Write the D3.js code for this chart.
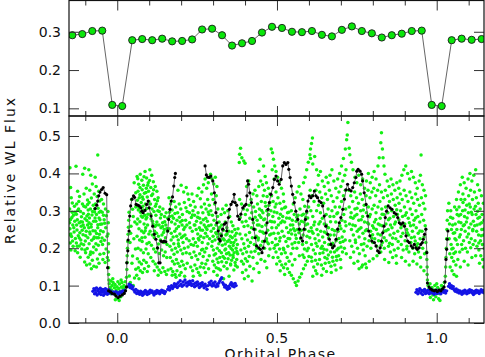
<!DOCTYPE html>
<html><head><meta charset="utf-8">
<script src="https://cdn.jsdelivr.net/npm/d3@7"></script>
<style>html,body{margin:0;padding:0;background:#fff}svg{display:block}</style>
</head><body>
<script>
// ---------- DATA ----------
const binPhase = [-0.1406,-0.1094,-0.0781,-0.0469,-0.0156,0.0156,0.0469,0.0781,0.1094,0.1406,0.1719,0.2031,0.2344,0.2656,0.2969,0.3281,0.3594,0.3906,0.4219,0.4531,0.4844,0.5156,0.5469,0.5781,0.6094,0.6406,0.6719,0.7031,0.7344,0.7656,0.7969,0.8281,0.8594,0.8906,0.9219,0.9531,0.9844,1.0156,1.0469,1.0781,1.1094,1.1406];
const binFlux = [0.291,0.294,0.302,0.303,0.109,0.106,0.278,0.281,0.278,0.282,0.275,0.276,0.280,0.306,0.308,0.291,0.264,0.270,0.276,0.298,0.313,0.310,0.300,0.299,0.302,0.292,0.288,0.305,0.314,0.302,0.296,0.285,0.291,0.295,0.302,0.303,0.109,0.106,0.278,0.282,0.279,0.281];

const greenPts = [
[-0.148,0.415],[-0.146,0.362],[-0.144,0.335],[-0.149,0.305],[-0.141,0.296],[-0.137,0.288],[-0.146,0.277],[-0.133,0.272],[-0.139,0.262],[-0.148,0.252],[-0.135,0.243],[-0.143,0.231],[-0.131,0.226],[-0.147,0.214],[-0.138,0.205],[-0.145,0.195],[-0.134,0.312],[-0.142,0.282],[-0.149,0.268],[-0.136,0.255],
[-0.129,0.419],[-0.124,0.352],[-0.118,0.338],[-0.127,0.318],[-0.121,0.305],[-0.115,0.298],[-0.128,0.291],[-0.112,0.284],[-0.125,0.276],[-0.119,0.268],[-0.113,0.259],[-0.126,0.249],[-0.117,0.241],[-0.122,0.233],[-0.114,0.222],[-0.128,0.214],[-0.119,0.206],[-0.111,0.198],[-0.124,0.188],[-0.116,0.176],
[-0.108,0.398],[-0.102,0.414],[-0.097,0.36],[-0.104,0.345],[-0.093,0.329],[-0.109,0.318],[-0.099,0.31],[-0.091,0.302],[-0.106,0.293],[-0.095,0.286],[-0.101,0.279],[-0.109,0.27],[-0.093,0.262],[-0.103,0.255],[-0.097,0.245],[-0.107,0.236],[-0.092,0.228],[-0.1,0.219],[-0.105,0.209],[-0.094,0.199],[-0.099,0.188],[-0.091,0.176],[-0.102,0.163],[-0.096,0.155],
[-0.089,0.41],[-0.083,0.395],[-0.078,0.372],[-0.086,0.355],[-0.072,0.345],[-0.081,0.334],[-0.088,0.322],[-0.075,0.315],[-0.084,0.305],[-0.071,0.297],[-0.079,0.289],[-0.087,0.281],[-0.074,0.272],[-0.082,0.264],[-0.089,0.255],[-0.076,0.247],[-0.085,0.238],[-0.072,0.23],[-0.08,0.221],[-0.088,0.212],[-0.074,0.203],[-0.083,0.19],[-0.078,0.168],[-0.086,0.158],[-0.073,0.152],[-0.081,0.145],
[-0.069,0.39],[-0.061,0.449],[-0.066,0.365],[-0.058,0.352],[-0.063,0.338],[-0.055,0.326],[-0.068,0.318],[-0.06,0.307],[-0.052,0.299],[-0.065,0.29],[-0.057,0.281],[-0.067,0.272],[-0.053,0.264],[-0.061,0.255],[-0.069,0.246],[-0.056,0.237],[-0.064,0.228],[-0.051,0.218],[-0.059,0.208],[-0.066,0.196],[-0.054,0.184],[-0.062,0.171],[-0.057,0.16],[-0.065,0.15],
[-0.049,0.33],[-0.043,0.318],[-0.037,0.305],[-0.047,0.296],[-0.034,0.287],[-0.041,0.276],[-0.048,0.265],[-0.036,0.255],[-0.044,0.244],[-0.032,0.232],[-0.04,0.221],[-0.046,0.21],[-0.035,0.198],[-0.042,0.186],[-0.031,0.175],[-0.038,0.162],[-0.045,0.17],
[-0.029,0.298],[-0.028,0.268],[-0.029,0.238],[-0.027,0.212],[-0.028,0.19],[-0.028,0.168],[-0.027,0.148],[-0.027,0.13],[-0.026,0.115],
[-0.025,0.105],[-0.022,0.095],[-0.02,0.112],[-0.018,0.088],[-0.016,0.1],[-0.013,0.108],[-0.011,0.082],[-0.009,0.094],[-0.007,0.103],[-0.005,0.075],[-0.003,0.088],[-0.001,0.097],[0.001,0.066],[0.003,0.08],[0.005,0.092],[0.007,0.104],[0.009,0.085],[0.011,0.07],[0.013,0.096],[0.015,0.108],[0.017,0.083],[0.019,0.093],[0.021,0.1],[0.023,0.088],[0.025,0.11],[0.027,0.097],[-0.014,0.118],[0.002,0.11],[0.012,0.115],[-0.006,0.062],[0.006,0.06],[-0.02,0.078],
[0.029,0.122],[0.03,0.143],[0.031,0.162],[0.031,0.18],[0.032,0.2],[0.033,0.218],[0.034,0.237],[0.035,0.256],[0.036,0.275],[0.037,0.296],
[0.053,0.375],[0.058,0.348],[0.048,0.304],[0.043,0.259],[0.04,0.215],[0.048,0.179],[0.058,0.144],[0.038,0.126],[0.045,0.33],[0.05,0.285],[0.055,0.27],[0.042,0.24],[0.052,0.225],[0.057,0.198],[0.046,0.16],[0.054,0.12],[0.041,0.108],[0.05,0.1],[0.058,0.31],
[0.062,0.392],[0.067,0.371],[0.072,0.398],[0.077,0.382],[0.082,0.368],[0.087,0.405],[0.092,0.388],[0.097,0.375],[0.065,0.352],[0.071,0.343],[0.078,0.356],[0.085,0.347],[0.091,0.36],[0.098,0.352],[0.063,0.328],[0.069,0.335],[0.075,0.322],[0.081,0.331],[0.088,0.318],[0.094,0.337],[0.099,0.325],[0.066,0.302],[0.073,0.296],[0.08,0.312],[0.086,0.288],[0.093,0.306],[0.064,0.278],[0.071,0.271],[0.079,0.283],[0.084,0.265],[0.09,0.278],[0.096,0.291],[0.068,0.252],[0.076,0.246],[0.083,0.241],[0.089,0.255],[0.095,0.262],[0.062,0.232],[0.07,0.222],[0.078,0.218],[0.087,0.229],[0.093,0.212],[0.099,0.238],[0.065,0.2],[0.074,0.195],[0.082,0.188],[0.09,0.198],[0.097,0.185],[0.063,0.172],[0.069,0.163],[0.076,0.158],[0.083,0.168],[0.091,0.162],[0.098,0.152],[0.066,0.148],[0.072,0.14],[0.079,0.135],[0.085,0.145],[0.061,0.128],[0.068,0.118],[0.094,0.138],
[0.102,0.41],[0.108,0.395],[0.113,0.378],[0.119,0.365],[0.124,0.352],[0.105,0.362],[0.111,0.345],[0.117,0.33],[0.122,0.318],[0.128,0.335],[0.104,0.318],[0.109,0.305],[0.115,0.298],[0.121,0.288],[0.127,0.3],[0.133,0.31],[0.138,0.29],[0.143,0.305],[0.148,0.285],[0.153,0.295],[0.158,0.28],[0.106,0.278],[0.112,0.265],[0.118,0.258],[0.124,0.27],[0.131,0.262],[0.137,0.255],[0.142,0.268],[0.147,0.25],[0.152,0.262],[0.157,0.245],[0.103,0.245],[0.11,0.235],[0.116,0.228],[0.123,0.24],[0.129,0.232],[0.135,0.222],[0.14,0.235],[0.146,0.215],[0.151,0.228],[0.156,0.21],[0.107,0.208],[0.114,0.198],[0.12,0.19],[0.126,0.2],[0.132,0.186],[0.139,0.195],[0.145,0.18],[0.15,0.19],[0.155,0.175],[0.105,0.175],[0.112,0.165],[0.119,0.158],[0.125,0.15],[0.131,0.142],[0.137,0.135],[0.143,0.148],[0.149,0.138],[0.154,0.13],[0.159,0.142],[0.116,0.14],[0.128,0.128],
[0.162,0.335],[0.167,0.318],[0.172,0.302],[0.178,0.325],[0.183,0.31],[0.189,0.295],[0.194,0.318],[0.199,0.305],[0.204,0.29],[0.21,0.322],[0.215,0.308],[0.164,0.285],[0.17,0.27],[0.176,0.28],[0.181,0.265],[0.187,0.275],[0.192,0.258],[0.197,0.27],[0.203,0.262],[0.208,0.25],[0.214,0.275],[0.218,0.262],[0.163,0.252],[0.169,0.24],[0.175,0.23],[0.18,0.245],[0.186,0.232],[0.191,0.222],[0.196,0.238],[0.201,0.228],[0.206,0.215],[0.212,0.235],[0.217,0.225],[0.165,0.205],[0.171,0.195],[0.177,0.212],[0.182,0.2],[0.188,0.19],[0.193,0.205],[0.199,0.195],[0.205,0.185],[0.21,0.2],[0.216,0.188],[0.166,0.175],[0.173,0.165],[0.179,0.158],[0.185,0.17],[0.19,0.16],[0.196,0.152],[0.202,0.165],[0.207,0.155],[0.213,0.145],[0.219,0.16],[0.168,0.145],[0.174,0.138],[0.181,0.13],[0.187,0.14],[0.195,0.128],[0.2,0.135],[0.211,0.125],[0.172,0.128],[0.184,0.122],[0.19,0.355],[0.2,0.368],[0.208,0.35],[0.216,0.362],[0.221,0.345],
[0.224,0.33],[0.229,0.315],[0.234,0.345],[0.239,0.325],[0.244,0.31],[0.25,0.34],[0.255,0.36],[0.26,0.332],[0.265,0.35],[0.27,0.37],[0.275,0.385],[0.28,0.36],[0.285,0.375],[0.29,0.39],[0.226,0.295],[0.232,0.282],[0.237,0.3],[0.242,0.288],[0.248,0.272],[0.253,0.295],[0.258,0.28],[0.263,0.31],[0.268,0.295],[0.273,0.318],[0.278,0.305],[0.283,0.33],[0.288,0.315],[0.228,0.255],[0.235,0.245],[0.241,0.262],[0.247,0.25],[0.252,0.238],[0.257,0.255],[0.262,0.268],[0.267,0.248],[0.272,0.262],[0.277,0.28],[0.282,0.272],[0.287,0.29],[0.225,0.22],[0.231,0.21],[0.238,0.225],[0.245,0.215],[0.251,0.205],[0.256,0.222],[0.261,0.232],[0.266,0.215],[0.271,0.228],[0.276,0.24],[0.281,0.25],[0.286,0.26],[0.227,0.185],[0.233,0.175],[0.24,0.19],[0.246,0.18],[0.252,0.17],[0.258,0.185],[0.264,0.195],[0.269,0.178],[0.274,0.19],[0.279,0.2],[0.284,0.212],[0.289,0.225],[0.23,0.15],[0.236,0.14],[0.243,0.155],[0.249,0.145],[0.254,0.135],[0.26,0.15],[0.265,0.16],[0.271,0.148],[0.277,0.158],[0.282,0.168],[0.288,0.18],[0.238,0.125],[0.259,0.128],[0.276,0.135],[0.286,0.145],
[0.292,0.398],[0.297,0.385],[0.302,0.372],[0.307,0.39],[0.312,0.365],[0.295,0.345],[0.3,0.33],[0.305,0.318],[0.31,0.34],[0.315,0.305],[0.293,0.3],[0.298,0.288],[0.303,0.275],[0.309,0.262],[0.314,0.285],[0.319,0.27],[0.325,0.29],[0.33,0.305],[0.336,0.295],[0.341,0.315],[0.346,0.3],[0.352,0.285],[0.357,0.27],[0.362,0.26],[0.368,0.25],[0.373,0.24],[0.378,0.252],[0.294,0.245],[0.3,0.232],[0.306,0.222],[0.311,0.238],[0.317,0.25],[0.322,0.238],[0.327,0.262],[0.332,0.248],[0.338,0.27],[0.343,0.255],[0.349,0.245],[0.354,0.232],[0.36,0.228],[0.365,0.215],[0.371,0.222],[0.376,0.21],[0.296,0.205],[0.301,0.195],[0.308,0.185],[0.313,0.2],[0.318,0.212],[0.324,0.222],[0.329,0.208],[0.335,0.222],[0.34,0.235],[0.345,0.218],[0.351,0.205],[0.356,0.215],[0.361,0.195],[0.366,0.188],[0.372,0.2],[0.377,0.185],[0.299,0.165],[0.304,0.155],[0.31,0.148],[0.316,0.162],[0.321,0.175],[0.326,0.188],[0.331,0.178],[0.337,0.195],[0.342,0.185],[0.347,0.172],[0.353,0.182],[0.358,0.168],[0.363,0.175],[0.369,0.162],[0.374,0.17],[0.302,0.138],[0.313,0.128],[0.323,0.142],[0.334,0.152],[0.344,0.145],[0.355,0.155],[0.365,0.142],[0.376,0.15],[0.333,0.118],[0.35,0.125],
[0.386,0.467],[0.383,0.451],[0.39,0.442],[0.396,0.433],[0.4,0.427],[0.382,0.429],[0.447,0.438],[0.458,0.42],[0.443,0.406],[0.463,0.392],[0.412,0.38],[0.405,0.365],
[0.383,0.33],[0.389,0.318],[0.395,0.305],[0.401,0.29],[0.407,0.302],[0.413,0.315],[0.419,0.33],[0.425,0.345],[0.431,0.355],[0.437,0.34],[0.443,0.365],[0.449,0.38],[0.455,0.37],[0.461,0.355],[0.467,0.375],[0.473,0.36],[0.478,0.345],
[0.385,0.282],[0.391,0.27],[0.397,0.258],[0.403,0.272],[0.409,0.26],[0.415,0.28],[0.421,0.295],[0.427,0.31],[0.433,0.298],[0.439,0.318],[0.445,0.305],[0.451,0.325],[0.457,0.34],[0.463,0.322],[0.469,0.338],[0.475,0.315],
[0.384,0.238],[0.39,0.225],[0.396,0.212],[0.402,0.235],[0.408,0.222],[0.414,0.242],[0.42,0.255],[0.426,0.268],[0.432,0.25],[0.438,0.275],[0.444,0.262],[0.45,0.282],[0.456,0.295],[0.462,0.278],[0.468,0.3],[0.474,0.29],[0.479,0.272],
[0.387,0.195],[0.393,0.185],[0.399,0.2],[0.405,0.19],[0.411,0.205],[0.417,0.215],[0.423,0.228],[0.429,0.21],[0.435,0.232],[0.441,0.222],[0.447,0.245],[0.453,0.258],[0.459,0.24],[0.465,0.262],[0.471,0.248],[0.477,0.235],
[0.389,0.165],[0.395,0.158],[0.401,0.172],[0.407,0.165],[0.413,0.178],[0.419,0.19],[0.425,0.175],[0.431,0.192],[0.437,0.2],[0.443,0.185],[0.449,0.208],[0.455,0.218],[0.461,0.2],[0.467,0.225],[0.473,0.212],[0.478,0.198],
[0.392,0.135],[0.403,0.142],[0.415,0.152],[0.427,0.145],[0.438,0.16],[0.45,0.17],[0.462,0.165],[0.474,0.18],[0.398,0.118],[0.41,0.125],[0.422,0.112],[0.444,0.135],[0.468,0.148],
[0.482,0.465],[0.486,0.455],[0.489,0.438],[0.493,0.42],[0.497,0.405],[0.485,0.41],[0.502,0.39],[0.508,0.378],[0.491,0.385],[0.514,0.36],[0.52,0.345],[0.497,0.35],[0.503,0.335],[0.509,0.32],[0.515,0.305],[0.521,0.325],[0.527,0.31],[0.533,0.295],[0.539,0.28],[0.545,0.3],[0.551,0.318],[0.557,0.335],[0.563,0.35],[0.569,0.365],[0.575,0.345],[0.581,0.33],[0.587,0.312],[0.593,0.295],[0.599,0.31],
[0.483,0.34],[0.488,0.325],[0.494,0.31],[0.5,0.295],[0.506,0.28],[0.512,0.268],[0.518,0.285],[0.524,0.27],[0.53,0.255],[0.536,0.242],[0.542,0.262],[0.548,0.275],[0.554,0.29],[0.56,0.272],[0.566,0.288],[0.572,0.305],[0.578,0.288],[0.584,0.27],[0.59,0.282],[0.596,0.265],
[0.481,0.3],[0.487,0.285],[0.492,0.27],[0.498,0.255],[0.504,0.24],[0.51,0.228],[0.516,0.245],[0.522,0.232],[0.528,0.218],[0.534,0.205],[0.54,0.225],[0.546,0.238],[0.552,0.252],[0.558,0.235],[0.564,0.25],[0.57,0.265],[0.576,0.248],[0.582,0.235],[0.588,0.25],[0.594,0.232],[0.6,0.245],
[0.484,0.255],[0.49,0.24],[0.496,0.225],[0.502,0.21],[0.508,0.198],[0.514,0.185],[0.52,0.2],[0.526,0.188],[0.532,0.175],[0.538,0.165],[0.544,0.185],[0.55,0.2],[0.556,0.215],[0.562,0.2],[0.568,0.215],[0.574,0.225],[0.58,0.21],[0.586,0.198],[0.592,0.215],[0.598,0.2],
[0.485,0.215],[0.491,0.2],[0.497,0.19],[0.503,0.175],[0.509,0.165],[0.515,0.155],[0.521,0.148],[0.527,0.158],[0.533,0.145],[0.539,0.135],[0.545,0.128],[0.551,0.118],[0.557,0.108],[0.561,0.1],[0.566,0.112],[0.571,0.122],[0.577,0.132],[0.583,0.145],[0.589,0.155],[0.595,0.165],[0.6,0.178],
[0.488,0.175],[0.499,0.158],[0.51,0.14],[0.524,0.13],[0.548,0.155],[0.556,0.17],[0.57,0.18],[0.585,0.175],[0.605,0.465],[0.608,0.48],[0.611,0.495],[0.603,0.45],[0.598,0.43],[0.593,0.41],[0.588,0.39],[0.583,0.375],
[0.605,0.44],[0.612,0.425],[0.618,0.445],[0.624,0.41],[0.63,0.395],[0.636,0.405],[0.642,0.38],[0.648,0.365],[0.654,0.39],[0.66,0.375],[0.666,0.395],[0.672,0.41],[0.678,0.38],[0.684,0.36],[0.69,0.385],[0.696,0.4],[0.702,0.42],[0.708,0.44],[0.714,0.465],[0.718,0.49],[0.72,0.503],[0.722,0.536],[0.726,0.467],
[0.604,0.355],[0.61,0.34],[0.616,0.325],[0.622,0.355],[0.628,0.37],[0.634,0.35],[0.64,0.335],[0.646,0.32],[0.652,0.345],[0.658,0.33],[0.664,0.355],[0.67,0.34],[0.676,0.325],[0.682,0.31],[0.688,0.335],[0.694,0.35],[0.7,0.365],[0.706,0.38],[0.712,0.395],[0.716,0.41],
[0.606,0.3],[0.612,0.285],[0.618,0.27],[0.624,0.3],[0.63,0.315],[0.636,0.295],[0.642,0.28],[0.648,0.265],[0.654,0.29],[0.66,0.305],[0.666,0.285],[0.672,0.3],[0.678,0.285],[0.684,0.27],[0.69,0.295],[0.696,0.31],[0.702,0.325],[0.708,0.34],[0.714,0.355],
[0.607,0.255],[0.613,0.24],[0.619,0.225],[0.625,0.25],[0.631,0.265],[0.637,0.245],[0.643,0.23],[0.649,0.215],[0.655,0.24],[0.661,0.255],[0.667,0.235],[0.673,0.25],[0.679,0.235],[0.685,0.22],[0.691,0.245],[0.697,0.26],[0.703,0.275],[0.709,0.29],[0.715,0.305],
[0.608,0.21],[0.614,0.195],[0.62,0.185],[0.626,0.205],[0.632,0.22],[0.638,0.2],[0.644,0.188],[0.65,0.175],[0.656,0.195],[0.662,0.21],[0.668,0.19],[0.674,0.205],[0.68,0.19],[0.686,0.178],[0.692,0.2],[0.698,0.215],[0.704,0.23],[0.71,0.245],[0.716,0.26],
[0.609,0.165],[0.615,0.15],[0.621,0.14],[0.627,0.158],[0.633,0.17],[0.639,0.155],[0.645,0.145],[0.651,0.16],[0.657,0.172],[0.663,0.162],[0.669,0.152],[0.675,0.165],[0.681,0.155],[0.687,0.168],[0.693,0.18],[0.699,0.17],[0.705,0.19],[0.711,0.2],[0.717,0.185],
[0.612,0.125],[0.625,0.132],[0.64,0.128],[0.655,0.138],[0.67,0.135],[0.685,0.142],[0.7,0.148],
[0.728,0.45],[0.733,0.43],[0.738,0.41],[0.744,0.39],[0.75,0.375],[0.756,0.395],[0.762,0.37],[0.768,0.385],[0.774,0.36],[0.78,0.38],[0.786,0.4],[0.792,0.375],[0.798,0.39],[0.804,0.405],[0.81,0.385],[0.816,0.42],[0.82,0.442],[0.825,0.482],[0.827,0.509],[0.83,0.465],[0.832,0.442],[0.835,0.42],[0.838,0.398],[0.845,0.38],[0.851,0.365],[0.857,0.385],[0.863,0.37],[0.869,0.355],[0.875,0.375],[0.881,0.36],
[0.725,0.355],[0.731,0.34],[0.737,0.325],[0.743,0.35],[0.749,0.335],[0.755,0.32],[0.761,0.345],[0.767,0.33],[0.773,0.315],[0.779,0.34],[0.785,0.355],[0.791,0.335],[0.797,0.35],[0.803,0.36],[0.809,0.34],[0.815,0.355],[0.821,0.37],[0.827,0.35],[0.833,0.335],[0.839,0.355],[0.846,0.34],[0.852,0.325],[0.858,0.345],[0.864,0.33],[0.87,0.315],[0.876,0.335],[0.882,0.32],
[0.726,0.31],[0.732,0.295],[0.738,0.28],[0.744,0.305],[0.75,0.29],[0.756,0.275],[0.762,0.3],[0.768,0.285],[0.774,0.27],[0.78,0.295],[0.786,0.31],[0.792,0.29],[0.798,0.305],[0.804,0.315],[0.81,0.295],[0.816,0.31],[0.822,0.325],[0.828,0.305],[0.834,0.29],[0.84,0.31],[0.847,0.295],[0.853,0.28],[0.859,0.3],[0.865,0.285],[0.871,0.27],[0.877,0.29],
[0.727,0.265],[0.733,0.25],[0.739,0.235],[0.745,0.26],[0.751,0.245],[0.757,0.23],[0.763,0.255],[0.769,0.24],[0.775,0.225],[0.781,0.25],[0.787,0.265],[0.793,0.245],[0.799,0.26],[0.805,0.27],[0.811,0.25],[0.817,0.265],[0.823,0.28],[0.829,0.26],[0.835,0.245],[0.841,0.265],[0.848,0.25],[0.854,0.235],[0.86,0.255],[0.866,0.24],[0.872,0.225],[0.878,0.245],
[0.728,0.22],[0.734,0.205],[0.74,0.19],[0.746,0.215],[0.752,0.2],[0.758,0.185],[0.764,0.21],[0.77,0.195],[0.776,0.18],[0.782,0.205],[0.788,0.22],[0.794,0.2],[0.8,0.215],[0.806,0.225],[0.812,0.205],[0.818,0.22],[0.824,0.235],[0.83,0.215],[0.836,0.2],[0.842,0.22],[0.849,0.205],[0.855,0.19],[0.861,0.21],[0.867,0.195],[0.873,0.18],[0.879,0.2],
[0.73,0.175],[0.741,0.16],[0.753,0.165],[0.765,0.15],[0.777,0.158],[0.789,0.165],[0.801,0.172],[0.813,0.18],[0.825,0.19],[0.837,0.17],[0.85,0.162],[0.862,0.175],[0.874,0.16],[0.757,0.145],[0.768,0.155],[0.78,0.148],
[0.885,0.38],[0.891,0.395],[0.897,0.41],[0.903,0.42],[0.909,0.4],[0.915,0.385],[0.921,0.405],[0.927,0.39],[0.933,0.375],[0.939,0.36],[0.945,0.38],[0.949,0.395],[0.951,0.449],[0.955,0.37],[0.96,0.355],[0.965,0.34],
[0.886,0.345],[0.892,0.33],[0.898,0.355],[0.904,0.34],[0.91,0.325],[0.916,0.35],[0.922,0.335],[0.928,0.32],[0.934,0.345],[0.94,0.33],[0.946,0.315],[0.952,0.335],[0.958,0.32],[0.963,0.305],
[0.887,0.3],[0.893,0.285],[0.899,0.31],[0.905,0.295],[0.911,0.28],[0.917,0.305],[0.923,0.29],[0.929,0.275],[0.935,0.3],[0.941,0.285],[0.947,0.27],[0.953,0.29],[0.959,0.275],[0.964,0.26],
[0.888,0.255],[0.894,0.24],[0.9,0.265],[0.906,0.25],[0.912,0.235],[0.918,0.26],[0.924,0.245],[0.93,0.23],[0.936,0.255],[0.942,0.24],[0.948,0.225],[0.954,0.245],[0.96,0.23],[0.966,0.215],
[0.889,0.21],[0.895,0.195],[0.901,0.22],[0.907,0.205],[0.913,0.19],[0.919,0.215],[0.925,0.2],[0.931,0.185],[0.937,0.205],[0.943,0.19],[0.949,0.175],[0.956,0.2],[0.962,0.185],
[0.89,0.175],[0.902,0.165],[0.914,0.155],[0.926,0.165],[0.938,0.158],[0.95,0.15],[0.96,0.14],
[0.968,0.19],[0.969,0.17],[0.97,0.15],[0.97,0.13],[0.971,0.115],
[0.973,0.1],[0.976,0.09],[0.979,0.105],[0.982,0.082],[0.985,0.095],[0.988,0.075],[0.991,0.088],[0.994,0.1],[0.997,0.07],[1.0,0.083],[1.003,0.095],[1.006,0.065],[1.009,0.078],[1.012,0.09],[1.015,0.1],[1.018,0.085],[1.021,0.097],[1.024,0.108],[0.98,0.068],[0.99,0.062],[1.01,0.06],[1.0,0.105],
[1.027,0.125],[1.028,0.15],[1.029,0.175],[1.03,0.2],[1.031,0.225],[1.032,0.25],[1.033,0.275],[1.034,0.3],
[1.038,0.32],[1.044,0.3],[1.05,0.28],[1.056,0.31],[1.062,0.33],[1.068,0.35],[1.074,0.37],[1.08,0.39],[1.086,0.375],[1.092,0.36],[1.098,0.385],[1.104,0.4],[1.11,0.38],[1.116,0.395],[1.122,0.41],[1.128,0.37],[1.134,0.355],[1.14,0.34],[1.146,0.32],
[1.04,0.265],[1.046,0.25],[1.052,0.24],[1.058,0.265],[1.064,0.29],[1.07,0.31],[1.076,0.33],[1.082,0.345],[1.088,0.33],[1.094,0.315],[1.1,0.34],[1.106,0.355],[1.112,0.33],[1.118,0.35],[1.124,0.335],[1.13,0.32],[1.136,0.305],[1.142,0.29],[1.148,0.275],
[1.039,0.225],[1.045,0.21],[1.051,0.2],[1.057,0.225],[1.063,0.25],[1.069,0.27],[1.075,0.29],[1.081,0.3],[1.087,0.285],[1.093,0.27],[1.099,0.295],[1.105,0.31],[1.111,0.29],[1.117,0.305],[1.123,0.29],[1.129,0.28],[1.135,0.265],[1.141,0.25],[1.147,0.235],
[1.041,0.185],[1.047,0.175],[1.053,0.165],[1.059,0.19],[1.065,0.21],[1.071,0.23],[1.077,0.25],[1.083,0.26],[1.089,0.245],[1.095,0.23],[1.101,0.255],[1.107,0.265],[1.113,0.25],[1.119,0.26],[1.125,0.245],[1.131,0.235],[1.137,0.22],[1.143,0.21],[1.149,0.2],
[1.042,0.15],[1.048,0.14],[1.054,0.13],[1.06,0.155],[1.066,0.17],[1.072,0.19],[1.078,0.21],[1.084,0.22],[1.09,0.2],[1.096,0.19],[1.102,0.215],[1.108,0.225],[1.114,0.21],[1.12,0.22],[1.126,0.205],[1.132,0.195],[1.138,0.18],[1.144,0.17],
[1.062,0.125],[1.074,0.15],[1.086,0.165],[1.098,0.155],[1.11,0.175],[1.122,0.18],[1.134,0.16],[1.146,0.15]
];

// extra green points read from the densest parts of the cloud
const greenPts2 = [
[-0.1453,0.238],[-0.1397,0.219],[-0.1322,0.296],[-0.1271,0.262],[-0.1236,0.301],[-0.1188,0.227],[-0.1142,0.271],[-0.1097,0.248],[-0.1043,0.312],[-0.0987,0.233],[-0.0952,0.274],[-0.0903,0.291],[-0.0861,0.243],[-0.0815,0.257],[-0.0773,0.298],[-0.0736,0.226],[-0.0694,0.281],[-0.0648,0.239],[-0.0607,0.263],[-0.0563,0.296],[-0.0521,0.247],[-0.0476,0.227],[-0.0431,0.288],[-0.0392,0.267],[-0.1407,0.321],[-0.1318,0.193],[-0.1203,0.325],[-0.1127,0.212],[-0.1011,0.195],[-0.0929,0.317],[-0.0847,0.183],[-0.0759,0.188],[-0.0668,0.212],[-0.0589,0.228],[-0.1483,0.236],[-0.1254,0.205],[-0.1066,0.262],[-0.0883,0.268],[-0.0705,0.305],[-0.0541,0.276],
[0.0643,0.386],[0.0712,0.362],[0.0786,0.337],[0.0838,0.391],[0.0897,0.349],[0.0953,0.368],[0.1012,0.381],[0.1074,0.341],[0.1137,0.356],[0.1193,0.312],[0.1258,0.327],[0.1316,0.298],[0.0682,0.309],[0.0749,0.286],[0.0817,0.302],[0.0926,0.282],[0.1046,0.291],[0.1103,0.272],[0.1227,0.262],[0.1352,0.281],[0.1418,0.258],[0.1487,0.271],[0.1553,0.253],[0.0617,0.265],[0.0874,0.247],[0.1168,0.245],[0.1449,0.242],[0.0773,0.228],[0.0997,0.215],[0.1289,0.211],
[0.1634,0.296],[0.1719,0.286],[0.1806,0.293],[0.1853,0.252],[0.1947,0.283],[0.2034,0.274],[0.2116,0.256],[0.2187,0.298],[0.2263,0.268],[0.2354,0.289],[0.2431,0.262],[0.2517,0.283],[0.2608,0.249],[0.2693,0.276],[0.2771,0.256],[0.2846,0.297],[0.1687,0.222],[0.1778,0.184],[0.1913,0.212],[0.2063,0.232],[0.2218,0.203],[0.2387,0.208],[0.2539,0.226],[0.2672,0.197],[0.2814,0.232],
[0.2937,0.262],[0.3016,0.253],[0.3083,0.241],[0.3148,0.229],[0.3207,0.256],[0.3264,0.236],[0.3318,0.225],[0.3381,0.211],[0.3437,0.238],[0.3502,0.222],[0.3563,0.199],[0.3628,0.207],[0.3682,0.233],[0.3744,0.191],[0.3033,0.182],[0.3122,0.171],[0.3196,0.193],[0.3271,0.164],[0.3358,0.173],[0.3417,0.162],[0.3486,0.188],[0.3547,0.158],[0.3619,0.181],[0.3703,0.154],[0.2973,0.218],[0.3174,0.145],[0.3394,0.198],[0.3593,0.244],
[0.4318,0.283],[0.4387,0.262],[0.4452,0.288],[0.4519,0.301],[0.4583,0.276],[0.4648,0.312],[0.4717,0.289],[0.4781,0.322],[0.4843,0.271],[0.4912,0.297],[0.4976,0.318],[0.5043,0.262],[0.5107,0.291],[0.5169,0.273],[0.5237,0.308],[0.5302,0.281],[0.5366,0.296],[0.5428,0.249],[0.5493,0.262],[0.5558,0.247],[0.5621,0.283],[0.5687,0.241],[0.4416,0.227],[0.4548,0.243],[0.4683,0.217],[0.4817,0.238],[0.4951,0.208],[0.5082,0.219],[0.5213,0.196],[0.5347,0.226],[0.5472,0.211],[0.5604,0.226],
[0.5763,0.272],[0.5828,0.291],[0.5893,0.262],[0.5962,0.281],[0.6027,0.228],[0.6091,0.245],[0.6154,0.262],[0.6218,0.213],[0.6287,0.236],[0.6352,0.271],[0.6416,0.205],[0.6483,0.243],[0.6547,0.262],[0.6613,0.227],[0.6678,0.271],[0.6741,0.213],[0.6806,0.247],[0.6872,0.292],[0.6937,0.226],[0.7004,0.252],[0.7068,0.218],[0.7133,0.271],[0.5807,0.182],[0.5941,0.193],[0.6076,0.176],[0.6204,0.168],[0.6341,0.186],[0.6472,0.197],[0.6608,0.182],[0.6737,0.176],[0.6873,0.195],[0.7003,0.203],[0.7137,0.222],
[0.7308,0.283],[0.7374,0.262],[0.7437,0.286],[0.7504,0.307],[0.7567,0.251],[0.7636,0.276],[0.7702,0.302],[0.7768,0.247],[0.7833,0.268],[0.7896,0.284],[0.7963,0.227],[0.8027,0.254],[0.8094,0.277],[0.8158,0.238],[0.8223,0.262],[0.8291,0.291],[0.8354,0.228],[0.8418,0.247],[0.8487,0.276],[0.8553,0.262],[0.8617,0.227],[0.8683,0.265],[0.8748,0.303],[0.8816,0.276],[0.8882,0.231],[0.8947,0.262],[0.9013,0.288],[0.9078,0.241],[0.9143,0.268],[0.9207,0.228],[0.9276,0.262],[0.9341,0.281],[0.9406,0.212],[0.9473,0.246],[0.7452,0.222],[0.7721,0.212],[0.7993,0.236],[0.8262,0.208],[0.8526,0.213],[0.8793,0.218],[0.9061,0.198],[0.9327,0.219],
[1.0432,0.283],[1.0498,0.262],[1.0563,0.241],[1.0627,0.303],[1.0694,0.287],[1.0758,0.268],[1.0823,0.322],[1.0887,0.302],[1.0952,0.281],[1.1018,0.318],[1.1083,0.296],[1.1147,0.272],[1.1213,0.312],[1.1278,0.299],[1.1342,0.283],[1.1407,0.268],[1.1468,0.251],[1.0471,0.198],[1.0606,0.222],[1.0737,0.236],[1.0868,0.263],[1.0996,0.238],[1.1126,0.247],[1.1262,0.262],[1.1394,0.233],[1.0536,0.186],[1.0803,0.197],[1.1064,0.201],[1.1318,0.214]
];

const bluePts = [
[-0.076,0.085],[-0.073,0.092],[-0.071,0.078],[-0.069,0.088],[-0.067,0.081],[-0.065,0.094],[-0.063,0.075],[-0.061,0.086],[-0.059,0.09],[-0.057,0.079],[-0.055,0.083],[-0.053,0.093],[-0.051,0.076],[-0.049,0.087],[-0.047,0.082],[-0.045,0.09],[-0.043,0.074],[-0.041,0.085],[-0.039,0.079],[-0.037,0.092],[-0.035,0.081],[-0.033,0.088],[-0.031,0.077],[-0.029,0.084],[-0.027,0.09],[-0.025,0.08],[-0.022,0.086],[-0.019,0.082],[-0.016,0.078],
[-0.012,0.083],[-0.008,0.079],[-0.004,0.084],[0.0,0.081],[0.004,0.077],[0.008,0.083],[0.012,0.08],[0.016,0.086],[0.02,0.082],[0.024,0.088],
[0.034,0.098],[0.037,0.104],[0.04,0.095],[0.043,0.101],[0.046,0.092],[0.049,0.097],[0.052,0.088],[0.055,0.083],[0.058,0.09],[0.061,0.079],[0.064,0.086],[0.067,0.081],[0.07,0.077],[0.073,0.085],[0.076,0.08],[0.079,0.074],[0.082,0.083],[0.085,0.078],[0.088,0.087],[0.091,0.082],[0.094,0.076],[0.097,0.084],[0.1,0.079],[0.103,0.088],[0.106,0.082],[0.109,0.086],[0.112,0.08],[0.115,0.075],[0.118,0.084],[0.121,0.079],[0.124,0.087],[0.127,0.081],[0.13,0.085],[0.133,0.078],[0.136,0.083],[0.139,0.088],[0.142,0.082],[0.145,0.086],[0.148,0.079],[0.151,0.084],
[0.158,0.09],[0.161,0.097],[0.164,0.088],[0.167,0.094],[0.17,0.1],[0.173,0.092],[0.176,0.097],[0.179,0.105],[0.182,0.098],[0.185,0.103],[0.188,0.095],[0.191,0.108],[0.194,0.1],[0.197,0.113],[0.2,0.104],[0.203,0.098],[0.206,0.11],[0.209,0.102],[0.212,0.115],[0.215,0.107],[0.218,0.099],[0.221,0.109],[0.224,0.103],[0.227,0.112],[0.23,0.106],[0.233,0.1],[0.236,0.113],[0.239,0.104],[0.242,0.097],[0.245,0.107],[0.248,0.1],[0.251,0.11],[0.254,0.103],[0.257,0.095],[0.26,0.105],[0.263,0.099],[0.266,0.108],[0.269,0.101],[0.272,0.094],[0.275,0.104],[0.278,0.098],[0.281,0.09],[0.284,0.1],
[0.288,0.108],[0.291,0.103],[0.294,0.112],[0.297,0.099],[0.3,0.106],[0.303,0.101],[0.306,0.11],[0.309,0.097],[0.312,0.104],[0.315,0.099],[0.318,0.107],[0.321,0.112],[0.324,0.117],[0.327,0.121],[0.33,0.108],[0.333,0.103],[0.336,0.096],[0.339,0.101],[0.342,0.094],[0.345,0.09],[0.348,0.098],[0.351,0.093],[0.354,0.103],[0.357,0.108],[0.36,0.099],[0.363,0.104],[0.366,0.097],[0.369,0.106],[0.372,0.1],
[0.935,0.082],[0.938,0.089],[0.941,0.078],[0.944,0.085],[0.947,0.092],[0.95,0.08],[0.953,0.087],[0.956,0.076],[0.959,0.084],[0.962,0.09],[0.965,0.079],[0.968,0.086],[0.971,0.081],[0.974,0.088],[0.977,0.078],[0.98,0.084],[0.983,0.09],[0.986,0.08],[0.989,0.086],[0.992,0.077],[0.995,0.083],[0.998,0.088],[1.001,0.079],[1.004,0.085],[1.007,0.081],[1.01,0.087],[1.013,0.078],[1.016,0.084],[1.019,0.089],[1.022,0.082],[1.025,0.087],[1.028,0.08],[1.031,0.086],
[1.037,0.098],[1.04,0.105],[1.043,0.094],[1.046,0.1],[1.049,0.092],[1.052,0.097],[1.055,0.089],[1.058,0.085],[1.061,0.091],[1.064,0.083],[1.067,0.088],[1.07,0.08],[1.073,0.086],[1.076,0.082],[1.079,0.077],[1.082,0.085],[1.085,0.08],[1.088,0.088],[1.091,0.083],[1.094,0.078],[1.097,0.086],[1.1,0.081],[1.103,0.089],[1.106,0.083],[1.109,0.087],[1.112,0.08],[1.115,0.076],[1.118,0.085],[1.121,0.08],[1.124,0.088],[1.127,0.082],[1.13,0.086],[1.133,0.079],[1.136,0.084],[1.139,0.089],[1.142,0.083],[1.145,0.087],[1.148,0.081]
];

const blackSeg1 = [
[-0.069,0.306],[-0.064,0.315],[-0.061,0.326],[-0.058,0.340],[-0.054,0.350],[-0.049,0.357],[-0.044,0.362],[-0.038,0.347],[-0.033,0.343],[-0.030,0.148],[-0.027,0.086],[-0.021,0.083],[-0.016,0.079],[-0.009,0.077],[-0.004,0.072],[0.003,0.068],[0.009,0.072],[0.016,0.075],[0.022,0.079],[0.026,0.086],[0.029,0.096],[0.030,0.161],[0.033,0.193],[0.034,0.222],[0.037,0.246],[0.039,0.286],[0.042,0.313],[0.046,0.331],[0.051,0.340],[0.054,0.336],
[0.059,0.317],[0.064,0.315],[0.069,0.313],[0.074,0.308],[0.077,0.299],[0.081,0.295],[0.087,0.301],[0.092,0.317],[0.097,0.326],[0.100,0.308],[0.106,0.286],[0.111,0.259],[0.116,0.237],[0.121,0.224],[0.126,0.201],[0.130,0.161],[0.134,0.161],[0.137,0.219],[0.142,0.217],[0.147,0.219],[0.152,0.217],[0.158,0.246],[0.161,0.277],[0.165,0.304],[0.169,0.326],[0.173,0.337],[0.177,0.366],[0.180,0.389],[0.182,0.400]
];
const blackSeg2 = [
[0.275,0.420],[0.279,0.396],[0.283,0.390],[0.288,0.389],[0.293,0.393],[0.299,0.380],[0.304,0.348],[0.307,0.322],[0.309,0.295],[0.312,0.268],[0.316,0.246],[0.319,0.224],[0.322,0.219],[0.326,0.233],[0.330,0.251],[0.335,0.264],[0.340,0.268],[0.343,0.246],[0.348,0.282],[0.351,0.304],[0.356,0.317],[0.361,0.324],[0.366,0.344],[0.369,0.322],[0.374,0.315],[0.377,0.286],[0.382,0.277],[0.387,0.291],[0.393,0.308],[0.398,0.313],[0.403,0.317],[0.406,0.340],[0.408,0.380],[0.411,0.371],[0.415,0.348],[0.420,0.322],[0.424,0.277],[0.428,0.251],[0.432,0.228],[0.436,0.206],[0.443,0.201],[0.448,0.197],[0.453,0.188],[0.457,0.201],[0.461,0.219],[0.466,0.241],[0.469,0.268],[0.472,0.304],[0.476,0.322],[0.481,0.344],[0.487,0.362],[0.492,0.384],[0.497,0.393],[0.502,0.380],[0.507,0.371],[0.513,0.384],[0.518,0.420],[0.523,0.429],[0.528,0.424],[0.534,0.429],[0.537,0.411],[0.541,0.389],[0.545,0.366],[0.549,0.344],[0.554,0.322],[0.559,0.299],[0.565,0.277],[0.570,0.251],[0.575,0.228],[0.580,0.219],[0.585,0.251],[0.589,0.277],[0.593,0.299],[0.597,0.326],[0.601,0.340],[0.606,0.335],[0.612,0.340],[0.617,0.353],[0.622,0.340],[0.627,0.335],[0.632,0.326],[0.638,0.322],[0.643,0.313],[0.648,0.286],[0.653,0.259],[0.659,0.237],[0.664,0.224],[0.669,0.210],[0.674,0.201],[0.679,0.206],[0.685,0.224],[0.690,0.251],[0.695,0.268],[0.700,0.282],[0.706,0.304],[0.711,0.331],[0.716,0.356],[0.721,0.371],[0.726,0.357],[0.732,0.353],[0.737,0.362],[0.742,0.375],[0.747,0.389],[0.750,0.406],[0.754,0.411],[0.760,0.406],[0.765,0.398],[0.768,0.380],[0.773,0.348],[0.779,0.317],[0.784,0.286],[0.787,0.246],[0.791,0.233],[0.797,0.219],[0.805,0.215],[0.810,0.206],[0.815,0.193],[0.820,0.188],[0.823,0.201],[0.827,0.219],[0.831,0.241],[0.835,0.259],[0.839,0.282],[0.843,0.299],[0.848,0.313],[0.854,0.308],[0.860,0.304],[0.867,0.295],[0.873,0.291],[0.878,0.282],[0.883,0.268],[0.888,0.264],[0.894,0.268],[0.899,0.259],[0.904,0.233],[0.909,0.219],[0.914,0.215],[0.920,0.206],[0.925,0.201],[0.930,0.210],[0.935,0.201],[0.939,0.197],[0.945,0.201],[0.950,0.210],[0.955,0.215],[0.958,0.224],[0.962,0.237],[0.966,0.251],[0.969,0.188],[0.971,0.107],[0.976,0.096],[0.981,0.091],[0.986,0.088],[0.992,0.086],[0.997,0.088],[1.002,0.084],[1.007,0.088],[1.013,0.086],[1.018,0.091],[1.023,0.096],[1.026,0.110],[1.029,0.170],[1.031,0.197],[1.033,0.224],[1.035,0.246]
];

const xMajor = [0, 0.5, 1.0];
const xMinor = [-0.1, 0.1, 0.2, 0.3, 0.4, 0.6, 0.7, 0.8, 0.9, 1.1];
const xTickLabels = ["0.0", "0.5", "1.0"];
const topYTicks = [0.1, 0.2, 0.3];
const botYTicks = [0.0, 0.1, 0.2, 0.3, 0.4, 0.5];

// ---------- LAYOUT ----------
const W = 485, H = 357;
const L = 69, R = 484;
const topT = 0.5, topB = 116, botT = 116, botB = 323;

const svg = d3.select("body").append("svg").attr("width", W).attr("height", H)
  .style("font-family", "'DejaVu Sans', sans-serif");

const x = d3.scaleLinear().domain([-0.151, 1.148]).range([L, R]);
const yTop = d3.scaleLinear().domain([0.080, 0.383]).range([topB, 0]);
const yBot = d3.scaleLinear().domain([0, 0.5535]).range([botB, botT]);

const defs = svg.append("defs");
defs.append("clipPath").attr("id", "clipBot").append("rect")
  .attr("x", L).attr("y", botT).attr("width", R - L).attr("height", botB - botT);
defs.append("clipPath").attr("id", "clipTop").append("rect")
  .attr("x", L).attr("y", 0).attr("width", R - L).attr("height", topB);

// ---------- BOTTOM PANEL ----------
const gb = svg.append("g").attr("clip-path", "url(#clipBot)");
gb.selectAll("circle.g").data(greenPts.concat(greenPts2)).join("circle").attr("class", "g")
  .attr("cx", d => x(d[0])).attr("cy", d => yBot(d[1])).attr("r", 1.75).attr("fill", "#14f014");
gb.selectAll("circle.b").data(bluePts).join("circle").attr("class", "b")
  .attr("cx", d => x(d[0])).attr("cy", d => yBot(d[1])).attr("r", 1.7).attr("fill", "#1414e6");
const blkLine = d3.line().x(d => x(d[0])).y(d => yBot(d[1]));
[blackSeg1, blackSeg2].forEach(seg => {
  gb.append("path").datum(seg).attr("d", blkLine).attr("fill", "none")
    .attr("stroke", "#555").attr("stroke-width", 0.9);
  gb.append("g").selectAll("circle").data(seg).join("circle")
    .attr("cx", d => x(d[0])).attr("cy", d => yBot(d[1])).attr("r", 1.6).attr("fill", "#000");
});

// ---------- TOP PANEL ----------
const gt = svg.append("g").attr("clip-path", "url(#clipTop)");
const topData = binPhase.map((p, i) => [p, binFlux[i]]);
gt.append("path").datum(topData)
  .attr("d", d3.line().x(d => x(d[0])).y(d => yTop(d[1])))
  .attr("fill", "none").attr("stroke", "#666").attr("stroke-width", 1);
gt.selectAll("circle").data(topData).join("circle")
  .attr("cx", d => x(d[0])).attr("cy", d => yTop(d[1])).attr("r", 3.6)
  .attr("fill", "#0ae60a").attr("stroke", "#1a1a1a").attr("stroke-width", 0.9);

// ---------- AXES / FRAMES ----------
function frame(t, b, yScale, yTicks) {
  const g = svg.append("g");
  const axB = d3.axisTop(x).tickValues(xMajor).tickSize(10).tickFormat("");
  const axBm = d3.axisTop(x).tickValues(xMinor).tickSize(5).tickFormat("");
  const axT = d3.axisBottom(x).tickValues(xMajor).tickSize(10).tickFormat("");
  const axTm = d3.axisBottom(x).tickValues(xMinor).tickSize(5).tickFormat("");
  [axB, axBm].forEach(a => g.append("g").attr("transform", `translate(0,${b})`).call(a));
  [axT, axTm].forEach(a => g.append("g").attr("transform", `translate(0,${t})`).call(a));
  g.append("g").attr("transform", `translate(${L},0)`)
    .call(d3.axisRight(yScale).tickValues(yTicks).tickSize(10).tickFormat(""));
  g.append("g").attr("transform", `translate(${R},0)`)
    .call(d3.axisLeft(yScale).tickValues(yTicks).tickSize(10).tickFormat(""));
  g.selectAll(".domain").remove();
  g.selectAll(".tick line").attr("stroke", "#333").attr("stroke-width", 1);
  g.append("rect").attr("x", L).attr("y", t).attr("width", R - L).attr("height", b - t)
    .attr("fill", "none").attr("stroke", "#111").attr("stroke-width", 1.2);
  g.selectAll("text.yl").data(yTicks).join("text").attr("class", "yl")
    .attr("x", L - 8).attr("y", d => yScale(d)).attr("dy", "0.36em")
    .attr("text-anchor", "end").attr("font-size", 14).attr("fill", "#111")
    .text(d => d3.format(".1f")(d));
}
frame(topT, topB, yTop, topYTicks);
frame(botT, botB, yBot, botYTicks);

svg.selectAll("text.xl").data(xMajor).join("text").attr("class", "xl")
  .attr("x", d => x(d)).attr("y", 343).attr("text-anchor", "middle")
  .attr("font-size", 14).attr("fill", "#111").text((d, i) => xTickLabels[i]);

svg.append("text").attr("x", (L + R) / 2 + 4).attr("y", 359).attr("text-anchor", "middle")
  .attr("font-size", 14).attr("letter-spacing", 1.4).attr("fill", "#111").text("Orbital Phase");

svg.append("text").attr("transform", "translate(15,170) rotate(-90)")
  .attr("text-anchor", "middle").attr("font-size", 14).attr("letter-spacing", 2)
  .attr("fill", "#111").text("Relative WL Flux");
</script>
</body></html>
